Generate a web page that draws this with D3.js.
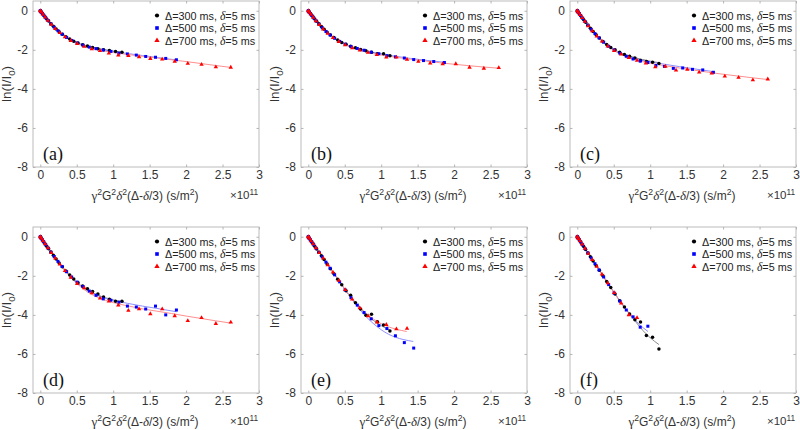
<!DOCTYPE html>
<html><head><meta charset="utf-8">
<script src="https://cdn.jsdelivr.net/npm/d3@7"></script>
<style>body{margin:0;background:#fff} svg{display:block}</style>
</head><body>
<svg id="chart" width="800" height="430"></svg>
<script>
// ---------- tick labels / text ----------
const xTicks=[0,0.5,1,1.5,2,2.5,3];
const xTickLabels=["0","0.5","1","1.5","2","2.5","3"];
const yTicks=[0,-2,-4,-6,-8];
const yTickLabels=["0","-2","-4","-6","-8"];
const panelLabels=["(a)","(b)","(c)","(d)","(e)","(f)"];
const legendDelta=["300","500","700"];
const legendSmallDelta="5";

// ---------- b-values (×10^11 s/m²) for each Δ ----------
const xBlack=[0,0.0018,0.0072,0.0161,0.0287,0.0448,0.0645,0.0878,0.1147,0.1452,0.1792,0.2168,0.2580,0.3028,0.3512,0.4032,0.4588,0.5179,0.5806,0.6469,0.7168,0.7903,0.8673,0.9480,1.0322,1.1200];
const xBlue=[0,0.0030,0.0119,0.0269,0.0478,0.0747,0.1075,0.1464,0.1912,0.2420,0.2987,0.3615,0.4302,0.5048,0.5855,0.6721,0.7647,0.8633,0.9678,1.0784,1.1949,1.3174,1.4458,1.5802,1.7206,1.8670];
const xRed=[0,0.0042,0.0167,0.0376,0.0669,0.1045,0.1505,0.2049,0.2676,0.3387,0.4181,0.5059,0.6021,0.7066,0.8195,0.9407,1.0703,1.2083,1.3546,1.5093,1.6723,1.8438,2.0235,2.2117,2.4082,2.6130];

// ---------- measured ln(I/I0) ----------
const aBlack=[0,-0.01,-0.04,-0.08,-0.14,-0.22,-0.31,-0.42,-0.53,-0.66,-0.79,-0.93,-1.07,-1.2,-1.33,-1.45,-1.56,-1.65,-1.74,-1.81,-1.88,-1.94,-1.99,-2.03,-2.09,-2.12];
const aBlue=[0,-0.02,-0.06,-0.13,-0.23,-0.36,-0.5,-0.67,-0.84,-1.02,-1.2,-1.37,-1.52,-1.65,-1.76,-1.86,-1.94,-2.01,-2.08,-2.17,-2.21,-2.27,-2.34,-2.38,-2.44,-2.51];
const aRed=[0,-0.02,-0.08,-0.19,-0.33,-0.5,-0.7,-0.92,-1.13,-1.34,-1.53,-1.69,-1.83,-1.95,-2.05,-2.18,-2.27,-2.3,-2.36,-2.45,-2.48,-2.6,-2.7,-2.75,-2.88,-2.9];

const bBlack=[0,-0.01,-0.04,-0.08,-0.14,-0.22,-0.31,-0.42,-0.54,-0.67,-0.81,-0.95,-1.1,-1.24,-1.37,-1.5,-1.62,-1.72,-1.82,-1.9,-1.98,-2.05,-2.12,-2.2,-2.2,-2.3];
const bBlue=[0,-0.02,-0.06,-0.14,-0.24,-0.37,-0.52,-0.69,-0.87,-1.06,-1.24,-1.41,-1.57,-1.71,-1.83,-1.93,-2.02,-2.12,-2.2,-2.3,-2.36,-2.42,-2.5,-2.55,-2.6,-2.65];
const bRed=[0,-0.02,-0.09,-0.19,-0.34,-0.52,-0.72,-0.94,-1.16,-1.38,-1.58,-1.75,-1.9,-2.02,-2.14,-2.25,-2.38,-2.38,-2.5,-2.6,-2.68,-2.72,-2.72,-2.9,-2.95,-2.92];

const cBlack=[0,-0.01,-0.04,-0.09,-0.15,-0.24,-0.34,-0.46,-0.59,-0.74,-0.89,-1.06,-1.23,-1.4,-1.57,-1.73,-1.88,-2.0,-2.13,-2.24,-2.33,-2.42,-2.55,-2.6,-2.64,-2.7];
const cBlue=[0,-0.02,-0.06,-0.14,-0.25,-0.39,-0.55,-0.74,-0.95,-1.17,-1.39,-1.61,-1.82,-2.01,-2.18,-2.33,-2.47,-2.58,-2.65,-2.8,-2.85,-2.95,-2.93,-3.0,-3.03,-3.15];
const cRed=[0,-0.02,-0.09,-0.2,-0.36,-0.55,-0.78,-1.03,-1.3,-1.56,-1.81,-2.04,-2.23,-2.4,-2.55,-2.68,-2.88,-2.85,-3.05,-3.0,-3.15,-3.2,-3.35,-3.42,-3.55,-3.5];

const dBlack=[0,-0.01,-0.04,-0.09,-0.16,-0.25,-0.36,-0.48,-0.62,-0.78,-0.95,-1.14,-1.34,-1.54,-1.75,-1.96,-2.16,-2.35,-2.52,-2.66,-2.8,-2.93,-3.08,-3.2,-3.3,-3.3];
const dBlue=[0,-0.02,-0.07,-0.15,-0.26,-0.41,-0.58,-0.79,-1.01,-1.26,-1.52,-1.79,-2.06,-2.32,-2.55,-2.78,-3.0,-3.18,-3.25,-3.35,-3.55,-3.6,-3.7,-3.55,-4.0,-3.75];
const dRed=[0,-0.02,-0.09,-0.21,-0.37,-0.57,-0.82,-1.1,-1.41,-1.74,-2.08,-2.4,-2.62,-2.88,-3.15,-3.3,-3.5,-3.78,-3.7,-3.95,-3.7,-4.05,-4.3,-4.15,-4.45,-4.38];

const eBlack=[0,-0.01,-0.04,-0.09,-0.16,-0.25,-0.35,-0.48,-0.63,-0.79,-0.97,-1.17,-1.39,-1.64,-1.89,-2.17,-2.46,-2.77,-3.0,-3.38,-3.7,-4.02,-3.97,-4.35,-4.52,-4.82];
const eBlue=[0,-0.02,-0.07,-0.15,-0.26,-0.41,-0.59,-0.8,-1.03,-1.3,-1.61,-1.95,-2.31,-2.72,-3.12,-3.5,-3.88,-4.2,-4.55,-4.7,-5.07,-5.42,-5.7];
const eRed=[0,-0.02,-0.09,-0.21,-0.37,-0.57,-0.82,-1.1,-1.44,-1.82,-2.24,-2.71,-3.2,-3.64,-4.05,-4.38,-4.5,-4.72,-4.7];

const fBlack=[0,-0.01,-0.04,-0.09,-0.16,-0.26,-0.37,-0.5,-0.65,-0.83,-1.02,-1.24,-1.47,-1.72,-1.99,-2.29,-2.6,-2.93,-3.27,-3.6,-3.95,-4.25,-4.37,-5.05,-5.15,-5.75];
const fBlue=[0,-0.02,-0.07,-0.15,-0.27,-0.42,-0.61,-0.83,-1.09,-1.38,-1.7,-2.06,-2.45,-2.88,-3.3,-3.75,-4.1,-4.63,-4.58];
const fRed=[0,-0.02,-0.1,-0.21,-0.38,-0.6,-0.86,-1.17,-1.52,-1.92,-2.37,-2.87,-3.4,-4.0,-4.15];

// ---------- fitted curves (knot b-values and ln(I/I0)) ----------
const kBlack=[0,0.05,0.1,0.15,0.2,0.25,0.3,0.4,0.5,0.6,0.7,0.8,0.9,1.0,1.12];
const kBlue=[0,0.05,0.1,0.15,0.2,0.25,0.3,0.4,0.5,0.6,0.7,0.8,0.9,1.0,1.2,1.4,1.6,1.87];
const kRed=[0,0.05,0.1,0.15,0.2,0.25,0.3,0.4,0.5,0.6,0.7,0.8,0.9,1.0,1.2,1.4,1.6,1.8,2.0,2.2,2.4,2.61];

const fitABlack=[0,-0.24,-0.47,-0.68,-0.87,-1.04,-1.19,-1.44,-1.62,-1.76,-1.86,-1.94,-2.0,-2.06,-2.12];
const fitABlue=[0,-0.24,-0.47,-0.68,-0.88,-1.05,-1.2,-1.46,-1.64,-1.78,-1.88,-1.96,-2.03,-2.09,-2.19,-2.29,-2.39,-2.52];
const fitARed=[0,-0.25,-0.48,-0.7,-0.9,-1.07,-1.23,-1.49,-1.68,-1.82,-1.93,-2.01,-2.08,-2.14,-2.24,-2.33,-2.42,-2.51,-2.6,-2.7,-2.8,-2.9];

const fitBBlack=[0,-0.24,-0.47,-0.69,-0.89,-1.07,-1.23,-1.5,-1.7,-1.85,-1.97,-2.06,-2.14,-2.21,-2.28];
const fitBBlue=[0,-0.24,-0.47,-0.69,-0.89,-1.07,-1.23,-1.5,-1.7,-1.85,-1.97,-2.07,-2.15,-2.22,-2.33,-2.44,-2.53,-2.64];
const fitBRed=[0,-0.25,-0.48,-0.7,-0.91,-1.09,-1.25,-1.52,-1.73,-1.89,-2.02,-2.12,-2.2,-2.27,-2.38,-2.48,-2.57,-2.66,-2.74,-2.81,-2.88,-2.94];

const fitCBlack=[0,-0.26,-0.51,-0.75,-0.98,-1.19,-1.39,-1.72,-1.97,-2.16,-2.3,-2.41,-2.5,-2.58,-2.66];
const fitCBlue=[0,-0.26,-0.52,-0.76,-0.99,-1.2,-1.4,-1.73,-1.99,-2.19,-2.34,-2.45,-2.54,-2.61,-2.74,-2.86,-2.97,-3.12];
const fitCRed=[0,-0.27,-0.53,-0.77,-1.0,-1.22,-1.42,-1.76,-2.03,-2.24,-2.39,-2.51,-2.61,-2.69,-2.81,-2.93,-3.04,-3.15,-3.25,-3.34,-3.43,-3.52];

const fitDBlack=[0,-0.27,-0.54,-0.8,-1.05,-1.3,-1.53,-1.96,-2.32,-2.61,-2.83,-3.0,-3.13,-3.23,-3.33];
const fitDBlue=[0,-0.27,-0.54,-0.8,-1.06,-1.31,-1.55,-1.98,-2.35,-2.64,-2.86,-3.03,-3.16,-3.26,-3.41,-3.55,-3.67,-3.84];
const fitDRed=[0,-0.28,-0.55,-0.82,-1.08,-1.33,-1.57,-2.01,-2.39,-2.7,-2.94,-3.12,-3.26,-3.37,-3.54,-3.69,-3.81,-3.93,-4.06,-4.18,-4.3,-4.42];

const kLin=[0,0.1,0.2,0.3,0.4,0.5,0.6,0.7,0.8,0.9,1.0,1.12];
const kEBlue=[0,0.1,0.2,0.3,0.4,0.5,0.6,0.7,0.8,0.9,1.0,1.1,1.2,1.3,1.44];
const kERed=[0,0.1,0.2,0.3,0.4,0.5,0.6,0.7,0.8,0.9,1.0,1.1,1.2,1.35];
const kFBlue=[0,0.1,0.2,0.3,0.4,0.5,0.6,0.7,0.8,0.9,0.97];
const kFRed=[0,0.1,0.2,0.3,0.4,0.5,0.6,0.7,0.82];

const fitEBlack=[0,-0.55,-1.08,-1.62,-2.15,-2.68,-3.17,-3.6,-3.98,-4.3,-4.55,-4.78];
const fitEBlue=[0,-0.55,-1.08,-1.62,-2.15,-2.69,-3.21,-3.7,-4.12,-4.47,-4.76,-4.99,-5.15,-5.26,-5.36];
const fitERed=[0,-0.55,-1.08,-1.62,-2.15,-2.67,-3.16,-3.58,-3.95,-4.23,-4.45,-4.61,-4.73,-4.85];
const fitFBlack=[0,-0.57,-1.14,-1.7,-2.27,-2.83,-3.37,-3.88,-4.35,-4.8,-5.17,-5.52];
const fitFBlue=[0,-0.57,-1.14,-1.7,-2.27,-2.83,-3.36,-3.86,-4.3,-4.65,-4.85];
const fitFRed=[0,-0.58,-1.15,-1.72,-2.29,-2.85,-3.39,-3.87,-4.2];

// ---------- assemble ----------
const pts=(xs,ys)=>ys.map((v,i)=>[xs[i],v]);
const panels=[
 {pts:[aBlack,aBlue,aRed],fit:[[kBlack,fitABlack],[kBlue,fitABlue],[kRed,fitARed]]},
 {pts:[bBlack,bBlue,bRed],fit:[[kBlack,fitBBlack],[kBlue,fitBBlue],[kRed,fitBRed]]},
 {pts:[cBlack,cBlue,cRed],fit:[[kBlack,fitCBlack],[kBlue,fitCBlue],[kRed,fitCRed]]},
 {pts:[dBlack,dBlue,dRed],fit:[[kBlack,fitDBlack],[kBlue,fitDBlue],[kRed,fitDRed]]},
 {pts:[eBlack,eBlue,eRed],fit:[[kLin,fitEBlack],[kEBlue,fitEBlue],[kERed,fitERed]]},
 {pts:[fBlack,fBlue,fRed],fit:[[kLin,fitFBlack],[kFBlue,fitFBlue],[kFRed,fitFRed]]}
];
const xsBySeries=[xBlack,xBlue,xRed];
const ptColor=["#000000","#0000ff","#ff0000"];
const fitColor=["#8a8a8a","#8f8fff","#ff8f8f"];
const SANS="'Liberation Sans', Arial, Helvetica, sans-serif";
const SERIF="'Liberation Serif', 'Times New Roman', serif";

const svg=d3.select("#chart");
const W=226,H=166;
const lefts=[33,301,570], tops=[1,227];
const x=d3.scaleLinear().domain([-0.1,3]).range([0,W]);
const y=d3.scaleLinear().domain([-8,0.5]).range([H,0]);
const line=d3.line().x(d=>x(d[0])).y(d=>y(d[1])).curve(d3.curveMonotoneX);

function marker(sel,k,cx,cy,scale){
  scale=scale||1;
  if(k===0) sel.append("circle").attr("cx",cx).attr("cy",cy).attr("r",1.75*scale).attr("fill",ptColor[0]);
  else if(k===1){const s=3.0*scale; sel.append("rect").attr("x",cx-s/2).attr("y",cy-s/2).attr("width",s).attr("height",s).attr("fill",ptColor[1]);}
  else sel.append("path").attr("d",d3.symbol(d3.symbolTriangle).size(8.5*scale*scale)()).attr("transform",`translate(${cx},${cy})`).attr("fill",ptColor[2]);
}

function richText(sel,parts,baseSize){
  let shift=0;
  parts.forEach(p=>{
    const t=sel.append("tspan").text(p.t);
    const target=p.sup?-baseSize*0.38:(p.sub?baseSize*0.28:0);
    if(target!==shift){t.attr("dy",target-shift);shift=target;}
    if(p.sup||p.sub) t.attr("font-size",baseSize*0.72);
    if(p.serif) t.attr("font-family",SERIF).attr("font-size",baseSize*1.08);
    if(p.it) t.attr("font-style","italic");
  });
}

panels.forEach((p,i)=>{
  const g=svg.append("g").attr("transform",`translate(${lefts[i%3]},${tops[Math.floor(i/3)]})`);
  g.append("rect").attr("width",W).attr("height",H).attr("fill","#fff").attr("stroke","#b4b4b4").attr("stroke-width",0.9);

  const styleAxis=a=>{a.select(".domain").remove();a.selectAll("line").attr("stroke","#b4b4b4");
    a.selectAll("text").attr("font-family",SANS).attr("font-size",12).attr("fill","#333");};
  g.append("g").attr("transform",`translate(0,${H})`)
   .call(d3.axisBottom(x).tickValues(xTicks).tickFormat((d,j)=>xTickLabels[j]).tickSizeInner(-2.5).tickSizeOuter(0).tickPadding(3)).call(styleAxis);
  g.append("g").call(d3.axisTop(x).tickValues(xTicks).tickFormat("").tickSizeInner(-2.5).tickSizeOuter(0)).call(styleAxis);
  g.append("g").call(d3.axisLeft(y).tickValues(yTicks).tickFormat((d,j)=>yTickLabels[j]).tickSizeInner(-2.5).tickSizeOuter(0).tickPadding(5)).call(styleAxis);
  g.append("g").attr("transform",`translate(${W},0)`).call(d3.axisRight(y).tickValues(yTicks).tickFormat("").tickSizeInner(-2.5).tickSizeOuter(0)).call(styleAxis);

  // fitted lines
  p.fit.forEach((f,k)=>{
    g.append("path").datum(pts(f[0],f[1])).attr("d",line).attr("fill","none")
     .attr("stroke",fitColor[k]).attr("stroke-width",1);
  });
  // points
  p.pts.forEach((ys,k)=>{
    const gg=g.append("g");
    pts(xsBySeries[k],ys).forEach(d=>marker(gg,k,x(d[0]),y(d[1])));
  });

  // legend
  legendDelta.forEach((dv,k)=>{
    const cy=14.5+k*12.5;
    marker(g,k,124,cy,1.2);
    const t=g.append("text").attr("x",132).attr("y",cy+4).attr("font-family",SANS).attr("font-size",10.8).attr("fill","#222");
    richText(t,[{t:"Δ="+dv+" ms, "},{t:"δ",serif:true,it:true},{t:"="+legendSmallDelta+" ms"}],10.8);
  });

  // panel label
  g.append("text").attr("x",10).attr("y",H-7).attr("font-family",SERIF).attr("font-size",18).attr("fill","#111").text(panelLabels[i]);

  // x label
  const xl=g.append("text").attr("x",W/2-1).attr("y",H+33).attr("text-anchor","middle").attr("font-family",SANS).attr("font-size",12).attr("fill","#333");
  richText(xl,[{t:"γ",serif:true},{t:"2",sup:true},{t:"G"},{t:"2",sup:true},{t:"δ",serif:true,it:true},{t:"2",sup:true},
    {t:"(Δ-"},{t:"δ",serif:true,it:true},{t:"/3) (s/m"},{t:"2",sup:true},{t:")"}],12);
  // exponent
  const ex=g.append("text").attr("x",197).attr("y",H+32).attr("font-family",SANS).attr("font-size",11.5).attr("fill","#333");
  richText(ex,[{t:"×10"},{t:"11",sup:true}],11.5);
  // y label
  const yl=g.append("text").attr("transform",`translate(-22,${H/2}) rotate(-90)`).attr("text-anchor","middle")
    .attr("font-family",SANS).attr("font-size",13.5).attr("fill","#333");
  richText(yl,[{t:"ln(I/I"},{t:"0",sub:true},{t:")"}],13.5);
});
</script>
</body></html>
